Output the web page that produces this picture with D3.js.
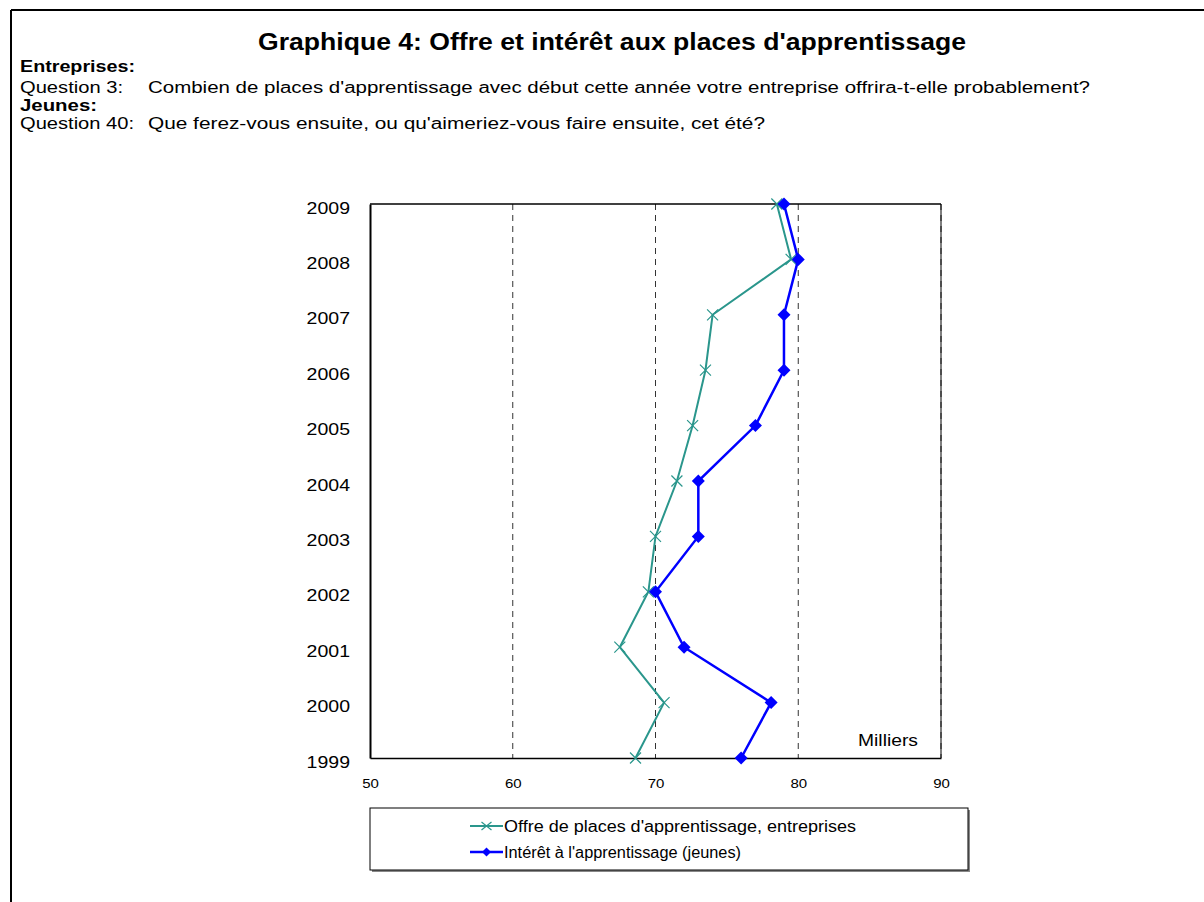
<!DOCTYPE html>
<html>
<head>
<meta charset="utf-8">
<script src="https://cdn.jsdelivr.net/npm/d3@7"></script>
<style>
  html, body { margin: 0; padding: 0; background: #fff; }
  svg { display: block; font-family: "Liberation Sans", Arial, sans-serif; }
</style>
</head>
<body>
<svg id="chart" width="1204" height="902"></svg>
<script>
// ---- Data ----
const years = [1999, 2000, 2001, 2002, 2003, 2004, 2005, 2006, 2007, 2008, 2009];
const offre = [68.6, 70.6, 67.5, 69.5, 70.0, 71.5, 72.6, 73.5, 74.0, 79.5, 78.5];
const interet = [76.0, 78.1, 72.0, 70.0, 73.0, 73.0, 77.0, 79.0, 79.0, 80.0, 79.0];
const xTicks = [50, 60, 70, 80, 90];
const seriesNames = ["Offre de places d'apprentissage, entreprises", "Intérêt à l'apprentissage (jeunes)"];
const titleText = "Graphique 4: Offre et intérêt aux places d'apprentissage";
const unitLabel = "Milliers";

const svg = d3.select("#chart");

// helper: text stretched horizontally to a given width (reference glyphs are wide)
function wideText(parent, x, y, str, size, width, bold) {
  const t = parent.append("text").attr("x", x).attr("y", y)
    .attr("font-size", size).text(str);
  if (bold) t.attr("font-weight", "bold");
  if (width) t.attr("textLength", width).attr("lengthAdjust", "spacingAndGlyphs");
  return t;
}

// Outer frame (top and left)
svg.append("line").attr("x1", 11).attr("x2", 1204).attr("y1", 10).attr("y2", 10)
  .attr("stroke", "#000").attr("stroke-width", 2);
svg.append("line").attr("x1", 11).attr("x2", 11).attr("y1", 10).attr("y2", 902)
  .attr("stroke", "#000").attr("stroke-width", 2);

// Title & header texts
wideText(svg, 258, 50, titleText, 23, 708, true);
wideText(svg, 20, 72, "Entreprises:", 16, 115, true);
wideText(svg, 20, 93, "Question 3:", 16, 103);
wideText(svg, 148, 93, "Combien de places d'apprentissage avec début cette année votre entreprise offrira-t-elle probablement?", 16, 942);
wideText(svg, 20, 111, "Jeunes:", 16, 77, true);
wideText(svg, 20, 129, "Question 40:", 16, 114);
wideText(svg, 148, 129, "Que ferez-vous ensuite, ou qu'aimeriez-vous faire ensuite, cet été?", 16, 617);

// ---- Scales ----
const pL = 370, pR = 941, pT = 204, pB = 758;
const x = d3.scaleLinear().domain([50, 90]).range([pL, pR]);
const y = d3.scaleLinear().domain([1999, 2009]).range([pB, pT]);

// Gridlines (dashed)
svg.append("g").selectAll("line").data(xTicks.slice(1))
  .join("line")
  .attr("x1", d => x(d)).attr("x2", d => x(d))
  .attr("y1", pT).attr("y2", pB)
  .attr("stroke", "#333").attr("stroke-width", 1).attr("stroke-dasharray", "6,5");

// Plot border
svg.append("line").attr("x1", pL).attr("x2", pR).attr("y1", pT).attr("y2", pT)
  .attr("stroke", "#000").attr("stroke-width", 1.5);
svg.append("line").attr("x1", pR).attr("x2", pR).attr("y1", pT).attr("y2", pB)
  .attr("stroke", "#000").attr("stroke-width", 1);

// Axes
const sxX = 1.25, sxY = 1.22;
const xAxis = d3.axisBottom(x).tickValues(xTicks).tickSize(0).tickPadding(0);
const gx = svg.append("g").attr("transform", `translate(0,${pB})`).call(xAxis);
gx.select(".domain").attr("stroke", "#000").attr("stroke-width", 1.5);
gx.selectAll("text").attr("font-size", 12).attr("font-family", "Liberation Sans, Arial, sans-serif")
  .attr("fill", "#000").attr("dy", "0").attr("y", 30)
  .attr("transform", `scale(${sxX},1)`);

const yAxis = d3.axisLeft(y).tickValues(years).tickFormat(d3.format("d")).tickSize(0).tickPadding(0);
const gy = svg.append("g").attr("transform", `translate(${pL},0)`).call(yAxis);
gy.select(".domain").attr("stroke", "#000").attr("stroke-width", 2);
gy.selectAll("text").attr("font-size", 16).attr("font-family", "Liberation Sans, Arial, sans-serif")
  .attr("fill", "#000").attr("x", -20 / sxY).attr("dy", "0.32em").attr("y", 4)
  .attr("transform", `scale(${sxY},1)`);

// Unit label
wideText(svg, 858, 746, unitLabel, 16, 60);

// ---- Series ----
const teal = "#2a968c", blue = "#0000ff";
const line = d3.line().x(d => x(d[1])).y(d => y(d[0]));
const offreData = years.map((yr, i) => [yr, offre[i]]);
const interetData = years.map((yr, i) => [yr, interet[i]]);

svg.append("path").datum(offreData).attr("d", line)
  .attr("fill", "none").attr("stroke", teal).attr("stroke-width", 2);
svg.append("g").selectAll("path").data(offreData).join("path")
  .attr("transform", d => `translate(${x(d[1])},${y(d[0])})`)
  .attr("d", "M-5.5,-5.5L5.5,5.5M-5.5,5.5L5.5,-5.5")
  .attr("stroke", teal).attr("stroke-width", 1.2).attr("fill", "none");

svg.append("path").datum(interetData).attr("d", line)
  .attr("fill", "none").attr("stroke", blue).attr("stroke-width", 2.5);
svg.append("g").selectAll("path").data(interetData).join("path")
  .attr("transform", d => `translate(${x(d[1])},${y(d[0])})`)
  .attr("d", "M0,-6.5L6.5,0L0,6.5L-6.5,0Z")
  .attr("fill", blue);

// ---- Legend ----
const lg = svg.append("g");
lg.append("rect").attr("x", 372).attr("y", 810).attr("width", 598).attr("height", 62).attr("fill", "#888");
lg.append("rect").attr("x", 370).attr("y", 808).attr("width", 598).attr("height", 62)
  .attr("fill", "#fff").attr("stroke", "#000").attr("stroke-width", 1);
const items = [
  { name: seriesNames[0], color: teal, cy: 826, marker: "x", w: 352 },
  { name: seriesNames[1], color: blue, cy: 852, marker: "d", w: 237 }
];
items.forEach(it => {
  lg.append("line").attr("x1", 470).attr("x2", 503).attr("y1", it.cy).attr("y2", it.cy)
    .attr("stroke", it.color).attr("stroke-width", it.marker === "x" ? 2 : 2.5);
  if (it.marker === "x") {
    lg.append("path").attr("transform", `translate(486.5,${it.cy})`)
      .attr("d", "M-5,-4L5,4M-5,4L5,-4").attr("stroke", it.color).attr("stroke-width", 1.2);
  } else {
    lg.append("path").attr("transform", `translate(486.5,${it.cy})`)
      .attr("d", "M0,-4.5L4.5,0L0,4.5L-4.5,0Z").attr("fill", it.color);
  }
  wideText(lg, 504, it.cy + 6, it.name, 16, it.w);
});
</script>
</body>
</html>
